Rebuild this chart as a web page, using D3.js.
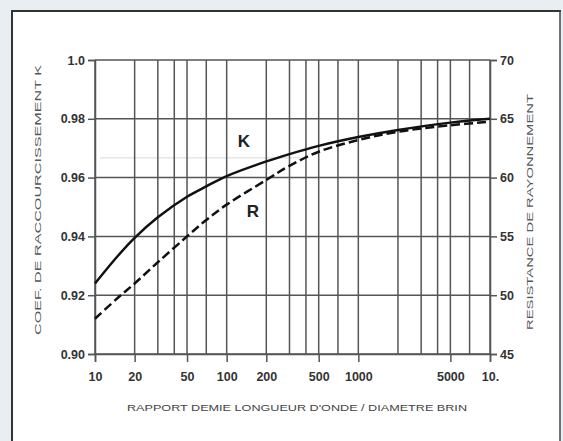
<!DOCTYPE html>
<html><head><meta charset="utf-8">
<script src="https://cdn.jsdelivr.net/npm/d3@7"></script>
<style>
html,body{margin:0;padding:0;background:#e8eef2;}
svg{display:block;}
</style></head>
<body>
<svg id="chart" width="563" height="441"></svg>
<script>
// Data
const ratio = [10, 15, 20, 30, 50, 70, 100, 200, 300, 500, 1000, 2000, 5000, 10000];
const coefK = [0.924, 0.9335, 0.9395, 0.9465, 0.9535, 0.957, 0.9605, 0.9655, 0.968, 0.9708, 0.9738, 0.9762, 0.9787, 0.98];
const resistR = [48.0, 49.8, 51.0, 52.8, 55.0, 56.4, 57.7, 59.8, 61.0, 62.2, 63.2, 63.9, 64.45, 64.75];
const xTickValues = [10, 20, 50, 100, 200, 500, 1000, 5000, 10000];
const xTickLabels = ["10", "20", "50", "100", "200", "500", "1000", "5000", "10."];
const xGridValues = [10, 20, 30, 40, 50, 70, 100, 200, 300, 400, 500, 700, 1000, 2000, 3000, 4000, 5000, 7000, 10000];
const leftTicks = [0.90, 0.92, 0.94, 0.96, 0.98, 1.0];
const leftTickLabels = ["0.90", "0.92", "0.94", "0.96", "0.98", "1.0"];
const rightTicks = [45, 50, 55, 60, 65, 70];
const xTitle = "RAPPORT DEMIE LONGUEUR D'ONDE / DIAMETRE BRIN";
const leftTitle = "COEF. DE RACCOURCISSEMENT K";
const rightTitle = "RESISTANCE DE RAYONNEMENT";

const svg = d3.select("#chart");
const L = 95, R = 490, T = 60, B = 354;
const font = "'Liberation Sans', Arial, sans-serif";

// frame
svg.append("rect").attr("x", 12).attr("y", 11).attr("width", 548).attr("height", 440).attr("fill", "#fff");
svg.append("line").attr("x1", 12).attr("x2", 12).attr("y1", 10).attr("y2", 441).attr("stroke", "#333").attr("stroke-width", 2);
svg.append("line").attr("x1", 11).attr("x2", 561).attr("y1", 11).attr("y2", 11).attr("stroke", "#333").attr("stroke-width", 2);
svg.append("line").attr("x1", 560).attr("x2", 560).attr("y1", 10).attr("y2", 441).attr("stroke", "#444").attr("stroke-width", 1.5);

const x = d3.scaleLog().domain([10, 10000]).range([L, R]);
const yL = d3.scaleLinear().domain([0.90, 1.0]).range([B, T]);
const yR = d3.scaleLinear().domain([45, 70]).range([B, T]);

// faint artefact line
svg.append("line").attr("x1", 100).attr("x2", 300).attr("y1", yL(0.9667)).attr("y2", yL(0.9667))
  .attr("stroke", "#d8d8d8").attr("stroke-width", 1);

const grid = svg.append("g").attr("stroke", "#555").attr("stroke-width", 1.5);
grid.selectAll("line.v").data(xGridValues).join("line").attr("class", "v")
  .attr("x1", d => x(d)).attr("x2", d => x(d)).attr("y1", T).attr("y2", B);
grid.selectAll("line.h").data(leftTicks).join("line").attr("class", "h")
  .attr("x1", L).attr("x2", R).attr("y1", d => yL(d)).attr("y2", d => yL(d));

// axes
const axL = d3.axisLeft(yL).tickValues(leftTicks).tickFormat((d, i) => leftTickLabels[i]).tickSize(7).tickPadding(3);
const axR = d3.axisRight(yR).tickValues(rightTicks).tickSize(7).tickPadding(3);
const axB = d3.axisBottom(x).tickValues(xTickValues).tickFormat((d, i) => xTickLabels[i]).tickSize(8).tickPadding(10);

function style(g) {
  g.select(".domain").attr("stroke", "#555").attr("stroke-width", 1.5);
  g.selectAll(".tick line").attr("stroke", "#555").attr("stroke-width", 1.5);
  g.selectAll(".tick text").attr("fill", "#333").attr("font-family", font)
    .attr("font-size", 12.5).attr("font-weight", "bold");
}
svg.append("g").attr("transform", `translate(${L},0)`).call(axL).call(style);
svg.append("g").attr("transform", `translate(${R},0)`).call(axR).call(style);
svg.append("g").attr("transform", `translate(0,${B})`).call(axB).call(style);

// curves
const lineK = d3.line().x((d, i) => x(ratio[i])).y(d => yL(d)).curve(d3.curveCatmullRom.alpha(0.5));
const lineR = d3.line().x((d, i) => x(ratio[i])).y(d => yR(d)).curve(d3.curveCatmullRom.alpha(0.5));
svg.append("path").attr("d", lineK(coefK)).attr("fill", "none").attr("stroke", "#111").attr("stroke-width", 2.5);
svg.append("path").attr("d", lineR(resistR)).attr("fill", "none").attr("stroke", "#111").attr("stroke-width", 2.5)
  .attr("stroke-dasharray", "9,4");

// curve labels
svg.append("text").attr("x", 244).attr("y", 147).attr("text-anchor", "middle").attr("font-family", font)
  .attr("font-size", 17).attr("font-weight", "bold").attr("fill", "#222").text("K");
svg.append("text").attr("x", 253).attr("y", 217).attr("text-anchor", "middle").attr("font-family", font)
  .attr("font-size", 17).attr("font-weight", "bold").attr("fill", "#222").text("R");

// titles
svg.append("text").attr("x", 297).attr("y", 411).attr("text-anchor", "middle").attr("font-family", font)
  .attr("font-size", 9.5).attr("fill", "#444").attr("textLength", 340).attr("lengthAdjust", "spacingAndGlyphs").text(xTitle);
svg.append("text").attr("transform", "translate(41,200) rotate(-90)").attr("text-anchor", "middle").attr("font-family", font)
  .attr("font-size", 9.5).attr("fill", "#555").attr("textLength", 270).attr("lengthAdjust", "spacingAndGlyphs").text(leftTitle);
svg.append("text").attr("transform", "translate(533,212) rotate(-90)").attr("text-anchor", "middle").attr("font-family", font)
  .attr("font-size", 9.5).attr("fill", "#555").attr("textLength", 236).attr("lengthAdjust", "spacingAndGlyphs").text(rightTitle);
</script>
</body></html>
